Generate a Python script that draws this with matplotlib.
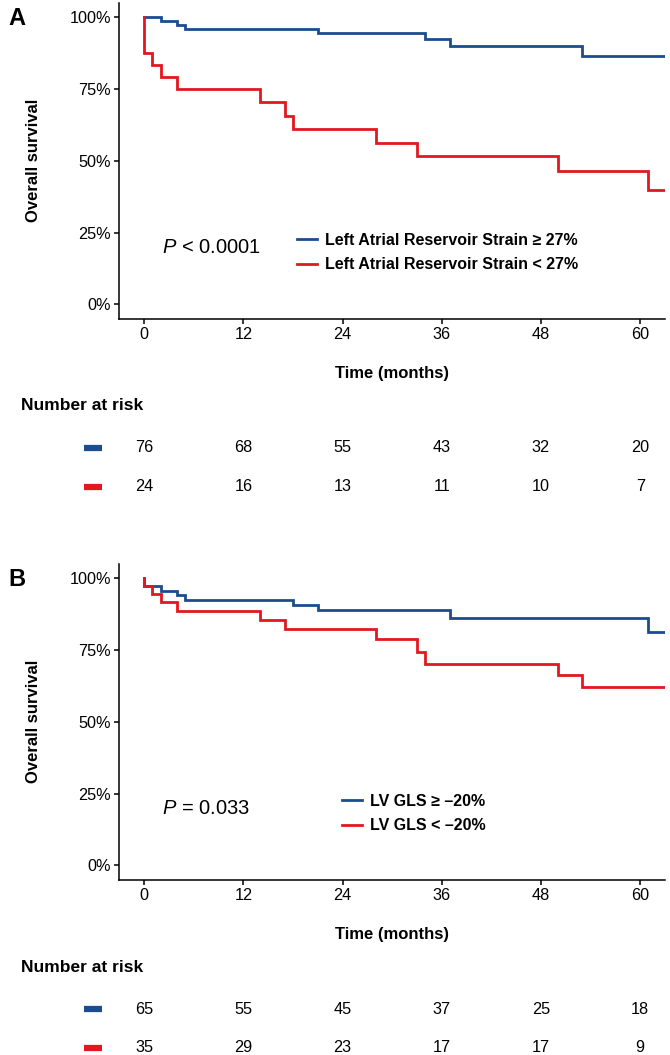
import matplotlib
matplotlib.use('Agg')
import matplotlib.pyplot as plt
from matplotlib.lines import Line2D
import matplotlib.transforms as mtransforms

plt.rcParams['font.family'] = ['Liberation Sans', 'DejaVu Sans']
plt.rcParams['mathtext.fontset'] = 'custom'
plt.rcParams['mathtext.rm'] = 'Liberation Sans'
plt.rcParams['mathtext.it'] = 'Liberation Sans:italic'

BLUE = '#1B4D8E'
RED = '#E3171F'

# ---- data ----
month_ticks = [0, 12, 24, 36, 48, 60]
pct_ticks = [0, 0.25, 0.5, 0.75, 1.0]
pct_labels = ['0%', '25%', '50%', '75%', '100%']
follow_up_end = 63

# panel A: left atrial reservoir strain
a_hi_t = [0, 2, 4, 5, 21, 34, 37, 53]
a_hi_s = [1.0, 0.987, 0.974, 0.959, 0.944, 0.925, 0.901, 0.865]
a_lo_t = [0, 0, 1, 2, 4, 14, 17, 18, 28, 33, 50, 61]
a_lo_s = [1.0, 0.875, 0.833, 0.791, 0.749, 0.704, 0.656, 0.611, 0.562, 0.518, 0.463, 0.398]
a_labels = ['Left Atrial Reservoir Strain \u2265 27%', 'Left Atrial Reservoir Strain < 27%']
a_pval = r'$P$ < 0.0001'
a_risk_hi = [76, 68, 55, 43, 32, 20]
a_risk_lo = [24, 16, 13, 11, 10, 7]

# panel B: LV GLS
b_hi_t = [0, 0, 2, 4, 5, 18, 21, 37, 61]
b_hi_s = [1.0, 0.973, 0.957, 0.941, 0.924, 0.908, 0.889, 0.863, 0.814]
b_lo_t = [0, 0, 1, 2, 4, 14, 17, 28, 33, 34, 50, 53]
b_lo_s = [1.0, 0.973, 0.945, 0.917, 0.886, 0.856, 0.825, 0.787, 0.745, 0.703, 0.662, 0.622]
b_labels = ['LV GLS \u2265 \u201320%', 'LV GLS < \u201320%']
b_pval = r'$P$ = 0.033'
b_risk_hi = [65, 55, 45, 37, 25, 18]
b_risk_lo = [35, 29, 23, 17, 17, 9]

W, H = 670, 1055
fig = plt.figure(figsize=(W / 100, H / 100), dpi=100)


def fx(x):
    return x / W


def fy(y):
    return 1 - y / H


def km_panel(top, letter, hi, lo, labels, pval, risk_hi, risk_lo, leg_x):
    left, right, bottom = 119.3, 665, top + 315.7
    ax = fig.add_axes([fx(left), fy(bottom), fx(right - left), (bottom - top) / H])

    for (t, s), col in zip([hi, lo], [BLUE, RED]):
        ax.step(list(t) + [follow_up_end], list(s) + [s[-1]], where='post',
                color=col, lw=2.0, solid_joinstyle='miter')

    ax.set_xlim(-3, 63)
    ax.set_ylim(-0.05, 1.05)
    ax.set_xticks(month_ticks)
    ax.set_yticks(pct_ticks)
    ax.set_yticklabels(pct_labels)
    for s in ['top', 'right']:
        ax.spines[s].set_visible(False)
    for s in ['left', 'bottom']:
        ax.spines[s].set_linewidth(1.1)
    ax.tick_params(labelsize=11.7, length=3.5, width=1.1, pad=2.5, colors='black')

    handles = [Line2D([], [], color=BLUE, lw=2.0), Line2D([], [], color=RED, lw=2.0)]
    leg_y = top + 237
    ax.legend(handles, labels, loc='center left', frameon=False,
              bbox_to_anchor=(fx(leg_x), fy(leg_y + 12.5)), bbox_transform=fig.transFigure,
              prop={'weight': 'bold', 'size': 11.5}, handlelength=1.25,
              handletextpad=0.5, labelspacing=0.6, borderpad=0, borderaxespad=0)

    fig.text(fx(162.5), fy(top + 245), pval, fontsize=14.5, va='center', ha='left')
    fig.text(fx(8), fy(top + 16), letter, fontsize=17, fontweight='bold', va='center', ha='left')
    fig.text(fx(34), fy((top + bottom) / 2), 'Overall survival', rotation=90,
             fontsize=12, fontweight='bold', va='center', ha='center')
    fig.text(fx((left + right) / 2), fy(top + 371), 'Time (months)',
             fontsize=12, fontweight='bold', va='center', ha='center')

    # number at risk table
    fig.text(fx(21), fy(top + 403), 'Number at risk', fontsize=12.5,
             fontweight='bold', va='center', ha='left')
    trans = mtransforms.blended_transform_factory(ax.transData, fig.transFigure)
    for row, (vals, col) in enumerate([(risk_hi, BLUE), (risk_lo, RED)]):
        ry = top + 445 + row * 39
        fig.add_artist(Line2D([fx(84), fx(102)], [fy(ry), fy(ry)], color=col, lw=4.5,
                              solid_capstyle='butt', transform=fig.transFigure))
        for m, v in zip(month_ticks, vals):
            fig.text(m, fy(ry), str(v), transform=trans, fontsize=11.7,
                     va='center', ha='center')
    return ax


km_panel(2.95, 'A', (a_hi_t, a_hi_s), (a_lo_t, a_lo_s), a_labels, a_pval,
         a_risk_hi, a_risk_lo, 297)
km_panel(564, 'B', (b_hi_t, b_hi_s), (b_lo_t, b_lo_s), b_labels, b_pval,
         b_risk_hi, b_risk_lo, 342)

fig.savefig('out.png', dpi=100)
